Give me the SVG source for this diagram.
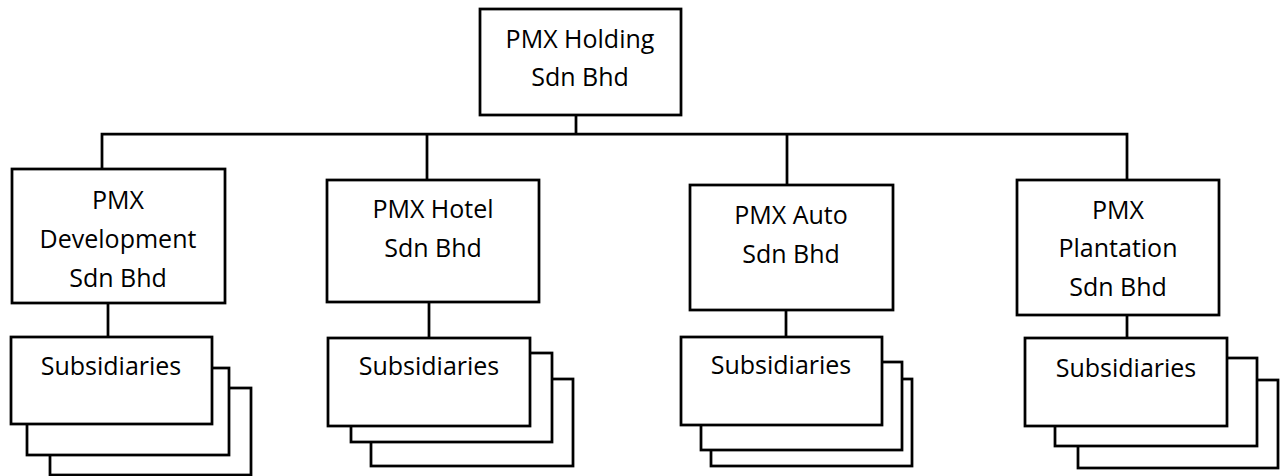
<svg xmlns="http://www.w3.org/2000/svg" width="1280" height="476" viewBox="0 0 1280 476">
  <style>
    .box { fill: #ffffff; stroke: #000000; stroke-width: 2.75; }
    .link { fill: none; stroke: #000000; stroke-width: 2.75; }
    .label { font-family: "Open Sans", "Liberation Sans", sans-serif; font-size: 25px; fill: #000000; text-anchor: middle; }
  </style>
  <rect width="1280" height="476" fill="#ffffff"/>

  <!-- connectors -->
  <g id="connectors">
    <path class="link" d="M576,115 V134"/>
    <path class="link" d="M102,169 V134 H1127 V180"/>
    <path class="link" d="M427,134 V180"/>
    <path class="link" d="M787,134 V185"/>
    <path class="link" d="M108,303 V337"/>
    <path class="link" d="M429,302 V338"/>
    <path class="link" d="M786,310 V337"/>
    <path class="link" d="M1127,315 V338"/>
  </g>

  <!-- parent company -->
  <g id="holding">
    <rect class="box" x="480" y="9" width="201" height="106"/>
    <text class="label" x="580" y="48">PMX Holding</text>
    <text class="label" x="580" y="86">Sdn Bhd</text>
  </g>

  <!-- divisions -->
  <g id="development">
    <rect class="box" x="12" y="169" width="213" height="134"/>
    <text class="label" x="118" y="209">PMX</text>
    <text class="label" x="118" y="248">Development</text>
    <text class="label" x="118" y="287">Sdn Bhd</text>
  </g>

  <g id="hotel">
    <rect class="box" x="327" y="180" width="212" height="122"/>
    <text class="label" x="433" y="218">PMX Hotel</text>
    <text class="label" x="433" y="257">Sdn Bhd</text>
  </g>

  <g id="auto">
    <rect class="box" x="690" y="185" width="203" height="125"/>
    <text class="label" x="791" y="224">PMX Auto</text>
    <text class="label" x="791" y="263">Sdn Bhd</text>
  </g>

  <g id="plantation">
    <rect class="box" x="1017" y="180" width="202" height="135"/>
    <text class="label" x="1118" y="219">PMX</text>
    <text class="label" x="1118" y="257">Plantation</text>
    <text class="label" x="1118" y="296">Sdn Bhd</text>
  </g>

  <!-- subsidiary stacks -->
  <g id="development-subsidiaries">
    <rect class="box" x="50" y="388" width="201" height="87"/>
    <rect class="box" x="27" y="368" width="202" height="87"/>
    <rect class="box" x="11" y="337" width="201" height="87"/>
    <text class="label" x="111" y="375">Subsidiaries</text>
  </g>

  <g id="hotel-subsidiaries">
    <rect class="box" x="371" y="379" width="202" height="87"/>
    <rect class="box" x="351" y="353" width="201" height="89"/>
    <rect class="box" x="328" y="338" width="202" height="88"/>
    <text class="label" x="429" y="375">Subsidiaries</text>
  </g>

  <g id="auto-subsidiaries">
    <rect class="box" x="711" y="379" width="201" height="87"/>
    <rect class="box" x="701" y="362" width="201" height="88"/>
    <rect class="box" x="681" y="337" width="201" height="88"/>
    <text class="label" x="781" y="374">Subsidiaries</text>
  </g>

  <g id="plantation-subsidiaries">
    <rect class="box" x="1078" y="380" width="200" height="88"/>
    <rect class="box" x="1055" y="358" width="202" height="88"/>
    <rect class="box" x="1025" y="338" width="202" height="88"/>
    <text class="label" x="1126" y="377">Subsidiaries</text>
  </g>
</svg>
